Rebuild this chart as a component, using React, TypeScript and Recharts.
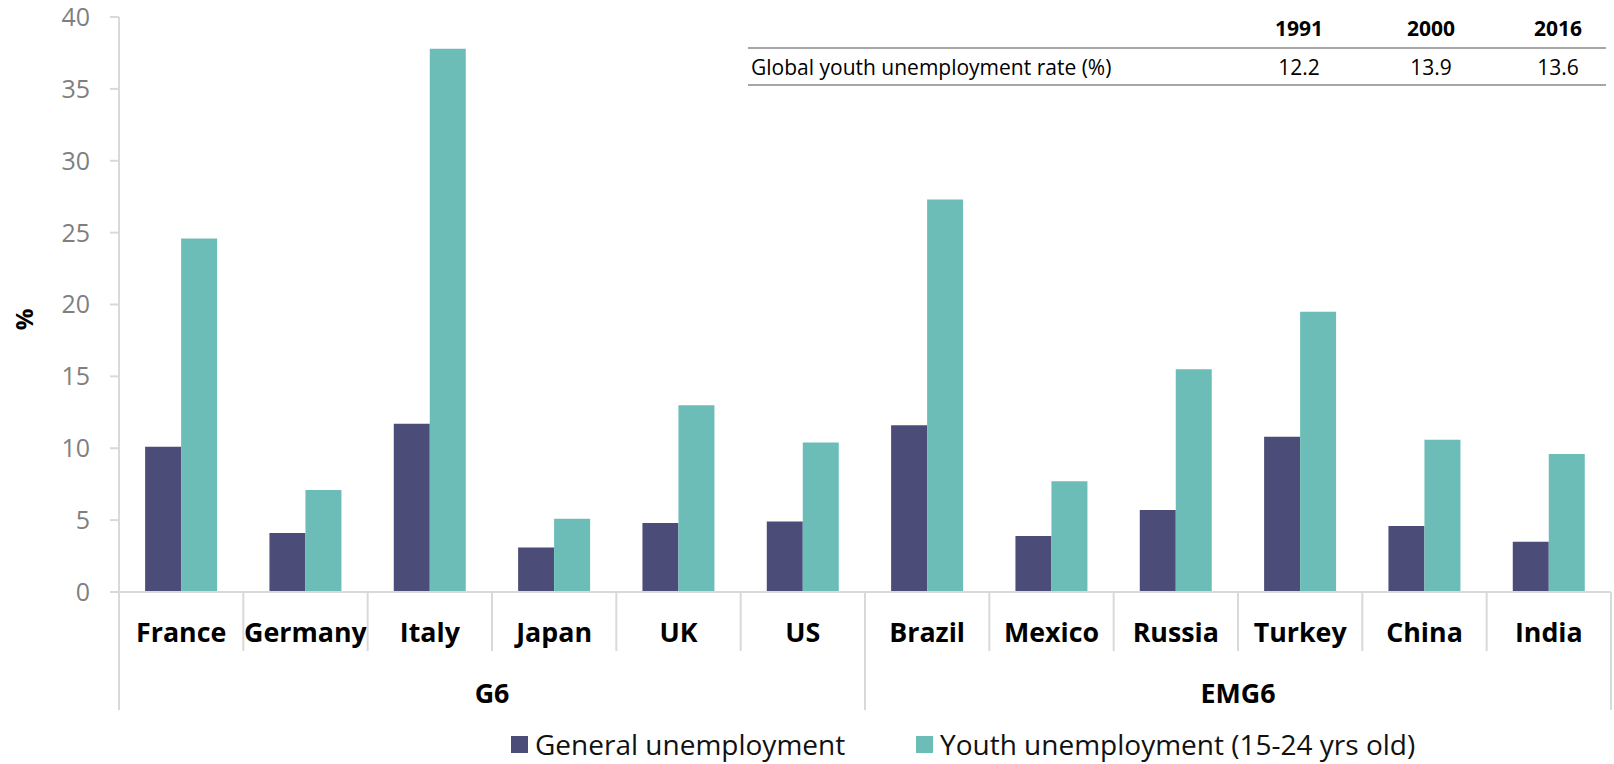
import React from "react";
import { BarChart, Bar, XAxis, YAxis } from "recharts";

const categories = ["France", "Germany", "Italy", "Japan", "UK", "US", "Brazil", "Mexico", "Russia", "Turkey", "China", "India"];
const generalUnemployment = [10.1, 4.1, 11.7, 3.1, 4.8, 4.9, 11.6, 3.9, 5.7, 10.8, 4.6, 3.5];
const youthUnemployment = [24.6, 7.1, 37.8, 5.1, 13.0, 10.4, 27.3, 7.7, 15.5, 19.5, 10.6, 9.6];
const groups = ["G6", "EMG6"];
const groupSize = 6;
const yTicks = [0, 5, 10, 15, 20, 25, 30, 35, 40];

const tableYears = ["1991", "2000", "2016"];
const tableRowLabel = "Global youth unemployment rate (%)";
const tableValues = ["12.2", "13.9", "13.6"];

const seriesNames = ["General unemployment", "Youth unemployment (15-24 yrs old)"];
const COLORS = ["#4B4D78", "#6CBDB8"];

const data = categories.map((c, i) => ({
  name: c,
  general: generalUnemployment[i],
  youth: youthUnemployment[i],
}));

const W = 1614;
const H = 764;
const LEFT = 119;
const RIGHT = 3;
const TOP = 17;
const XAXIS_H = 172;
const BAND = (W - LEFT - RIGHT) / categories.length;
const FONT = "'Open Sans', 'Liberation Sans', sans-serif";
const COL_CENTERS = [1299, 1431, 1558];

const CatTick = (props: any) => {
  const { x, y, payload, index } = props;
  const half = payload && typeof payload.offset === "number" && payload.offset > 0 ? payload.offset : BAND / 2;
  const i = typeof index === "number" ? index : categories.indexOf(payload.value);
  const left = x - half;
  const right = x + half;
  const isGroupStart = i % groupSize === 0;
  const els: any[] = [];
  els.push(
    <line key="l" x1={left} x2={left} y1={y} y2={isGroupStart ? y + 118 : y + 59} stroke="#d9d9d9" strokeWidth={2} />
  );
  if (i === categories.length - 1) {
    els.push(<line key="r" x1={right} x2={right} y1={y} y2={y + 118} stroke="#d9d9d9" strokeWidth={2} />);
  }
  els.push(
    <text key="t" x={x} y={y + 39} textAnchor="middle" dominantBaseline="central" fontFamily={FONT} fontWeight={700} fontSize={26.8} fill="#000">
      {payload.value}
    </text>
  );
  if (i % groupSize === Math.floor(groupSize / 2) - 1) {
    els.push(
      <text key="g" x={right} y={y + 100} textAnchor="middle" dominantBaseline="central" fontFamily={FONT} fontWeight={700} fontSize={26.8} fill="#000">
        {groups[Math.floor(i / groupSize)]}
      </text>
    );
  }
  return <g>{els}</g>;
};

const YLabel = (props: any) => {
  const vb = props.viewBox || { x: 0, y: TOP, height: 575 };
  const cx = 23;
  const cy = vb.y + vb.height / 2 + 15;
  return (
    <text x={cx} y={cy} transform={`rotate(-90 ${cx} ${cy})`} textAnchor="middle" dominantBaseline="central" fontFamily={FONT} fontWeight={700} fontSize={24} fill="#000">
      %
    </text>
  );
};

export default function App() {
  return (
    <div style={{ position: "absolute", left: 0, top: 0, width: W, height: H, background: "#fff", fontFamily: FONT }}>
      <BarChart width={W} height={H} data={data} margin={{ top: TOP, right: RIGHT, bottom: 0, left: 0 }} barCategoryGap="21%" barGap={0}>
        <XAxis
          dataKey="name"
          height={XAXIS_H}
          tickLine={false}
          tickSize={0}
          tickMargin={0}
          axisLine={{ stroke: "#d9d9d9", strokeWidth: 2 }}
          tick={<CatTick />}
          interval={0}
        />
        <YAxis
          width={LEFT}
          domain={[0, 40]}
          ticks={yTicks}
          interval={0}
          tickSize={9}
          tickMargin={20}
          axisLine={{ stroke: "#d9d9d9", strokeWidth: 2 }}
          tickLine={{ stroke: "#d9d9d9", strokeWidth: 2 }}
          tick={{ fill: "#7f7f7f", fontSize: 25, fontFamily: FONT }}
          label={<YLabel />}
        />
        <Bar dataKey="general" name={seriesNames[0]} fill={COLORS[0]} isAnimationActive={false} />
        <Bar dataKey="youth" name={seriesNames[1]} fill={COLORS[1]} isAnimationActive={false} />
      </BarChart>

      {/* table */}
      <div style={{ position: "absolute", left: 748, top: 47, width: 858, height: 2, background: "#a6a6a6" }} />
      <div style={{ position: "absolute", left: 748, top: 84, width: 858, height: 2, background: "#a6a6a6" }} />
      {tableYears.map((yr, i) => (
        <div key={yr} style={{ position: "absolute", left: COL_CENTERS[i] - 50, width: 100, top: 13, textAlign: "center", fontWeight: 700, fontSize: 21, lineHeight: "30px", color: "#000" }}>
          {yr}
        </div>
      ))}
      <div style={{ position: "absolute", left: 751, top: 52, fontSize: 21, lineHeight: "30px", color: "#000", whiteSpace: "nowrap" }}>{tableRowLabel}</div>
      {tableValues.map((v, i) => (
        <div key={i} style={{ position: "absolute", left: COL_CENTERS[i] - 50, width: 100, top: 52, textAlign: "center", fontSize: 21, lineHeight: "30px", color: "#000" }}>
          {v}
        </div>
      ))}

      {/* legend */}
      {seriesNames.map((n, i) => (
        <div key={n} style={{ position: "absolute", left: [511, 916][i], top: 726, height: 36, display: "flex", alignItems: "center", whiteSpace: "nowrap" }}>
          <div style={{ width: 17, height: 17, background: COLORS[i], marginRight: 7 }} />
          <span style={{ fontSize: 28, lineHeight: "36px", color: "#111" }}>{n}</span>
        </div>
      ))}
    </div>
  );
}
